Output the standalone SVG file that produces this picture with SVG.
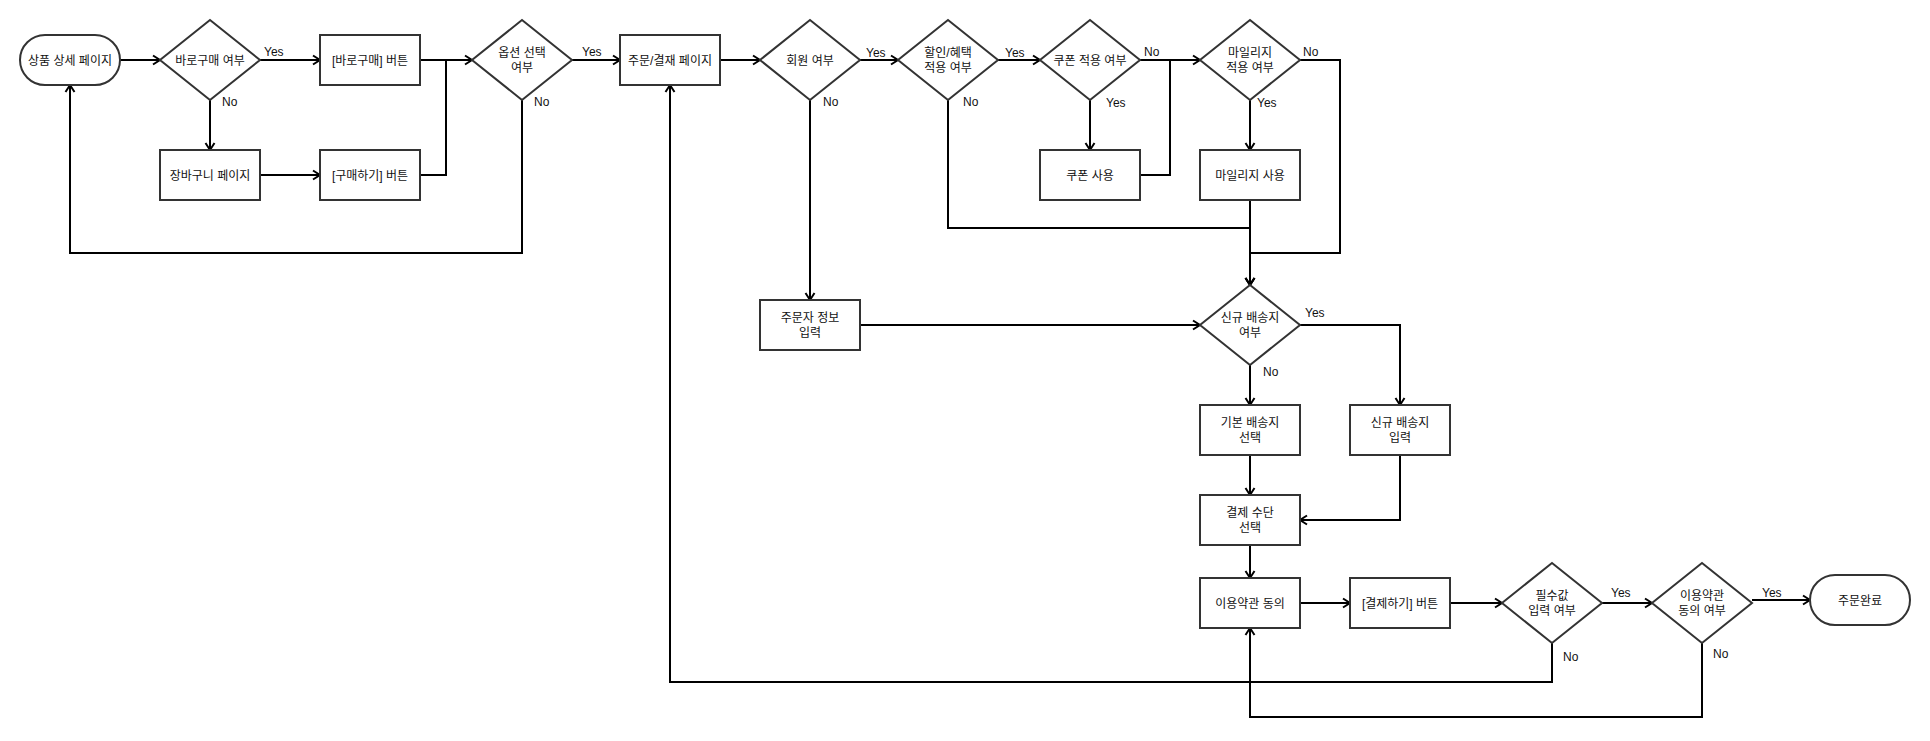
<svg xmlns="http://www.w3.org/2000/svg" width="1930" height="741" viewBox="0 0 1930 741">
<style>
.n{fill:#fff;stroke:#333;stroke-width:2}
.e{fill:none;stroke:#000;stroke-width:2}
.ea{fill:none;stroke:#000;stroke-width:2;marker-end:url(#arr)}
text{font-family:"Liberation Sans","Noto Sans CJK KR",sans-serif;font-size:12px;fill:#111}
.c{text-anchor:middle}
</style>
<defs>
<marker id="arr" viewBox="-9 -6 11 12" refX="0" refY="0" markerWidth="11" markerHeight="12" markerUnits="userSpaceOnUse" orient="auto">
<path d="M-7,-4.5 L0,0 L-7,4.5" fill="none" stroke="#000" stroke-width="2"/>
</marker>
</defs>
<rect width="1930" height="741" fill="#fff"/>
<g id="connectors">
<path class="ea" d="M120,60 H160"/>
<path class="ea" d="M260,60 H320"/>
<path class="ea" d="M210,100 V150"/>
<path class="ea" d="M260,175 H320"/>
<path class="ea" d="M420,60 H472"/>
<path class="e" d="M420,175 H446 V60"/>
<path class="ea" d="M572,60 H620"/>
<path class="ea" d="M522,100 V253 H70 V85"/>
<path class="ea" d="M720,60 H760"/>
<path class="ea" d="M860,60 H898"/>
<path class="ea" d="M810,100 V300"/>
<path class="ea" d="M998,60 H1040"/>
<path class="ea" d="M948,100 V228 H1250 V285"/>
<path class="ea" d="M1090,100 V150"/>
<path class="ea" d="M1140,60 H1200"/>
<path class="e" d="M1140,175 H1170 V60"/>
<path class="ea" d="M1250,100 V150"/>
<path class="ea" d="M1250,200 V285"/>
<path class="ea" d="M1300,60 H1340 V253 H1250 V285"/>
<path class="ea" d="M860,325 H1200"/>
<path class="ea" d="M1300,325 H1400 V405"/>
<path class="ea" d="M1250,365 V405"/>
<path class="ea" d="M1250,455 V495"/>
<path class="ea" d="M1400,455 V520 H1300"/>
<path class="ea" d="M1250,545 V578"/>
<path class="ea" d="M1300,603 H1350"/>
<path class="ea" d="M1450,603 H1502"/>
<path class="ea" d="M1602,603 H1652"/>
<path class="ea" d="M1752,600 H1810"/>
<path class="ea" d="M1552,643 V682 H670 V85"/>
<path class="ea" d="M1702,643 V717 H1250 V628"/>
</g>
<g id="edge-labels">
<text x="264" y="56">Yes</text>
<text x="222" y="106">No</text>
<text x="582" y="56">Yes</text>
<text x="534" y="106">No</text>
<text x="866" y="57">Yes</text>
<text x="823" y="106">No</text>
<text x="1005" y="57">Yes</text>
<text x="963" y="106">No</text>
<text x="1144" y="56">No</text>
<text x="1106" y="107">Yes</text>
<text x="1303" y="56">No</text>
<text x="1257" y="107">Yes</text>
<text x="1305" y="317">Yes</text>
<text x="1263" y="376">No</text>
<text x="1611" y="597">Yes</text>
<text x="1563" y="661">No</text>
<text x="1762" y="597">Yes</text>
<text x="1713" y="658">No</text>
</g>
<g id="n-start"><rect class="n" x="20" y="35" width="100" height="50" rx="25"/><text class="c" x="70" y="64.5">상품 상세 페이지</text></g>
<g id="n-direct"><path class="n" d="M210,20 L260,60 L210,100 L160,60 Z"/><text class="c" x="210" y="64.5">바로구매 여부</text></g>
<g id="n-btn-direct"><rect class="n" x="320" y="35" width="100" height="50"/><text class="c" x="370" y="64.5">[바로구매] 버튼</text></g>
<g id="n-cart"><rect class="n" x="160" y="150" width="100" height="50"/><text class="c" x="210" y="179.5">장바구니 페이지</text></g>
<g id="n-btn-buy"><rect class="n" x="320" y="150" width="100" height="50"/><text class="c" x="370" y="179.5">[구매하기] 버튼</text></g>
<g id="n-option"><path class="n" d="M522,20 L572,60 L522,100 L472,60 Z"/><text class="c" x="522" y="57.3">옵션 선택</text><text class="c" x="522" y="71.8">여부</text></g>
<g id="n-order"><rect class="n" x="620" y="35" width="100" height="50"/><text class="c" x="670" y="64.5">주문/결재 페이지</text></g>
<g id="n-member"><path class="n" d="M810,20 L860,60 L810,100 L760,60 Z"/><text class="c" x="810" y="64.5">회원 여부</text></g>
<g id="n-discount"><path class="n" d="M948,20 L998,60 L948,100 L898,60 Z"/><text class="c" x="948" y="57.3">할인/혜택</text><text class="c" x="948" y="71.8">적용 여부</text></g>
<g id="n-coupon-q"><path class="n" d="M1090,20 L1140,60 L1090,100 L1040,60 Z"/><text class="c" x="1090" y="64.5">쿠폰 적용 여부</text></g>
<g id="n-coupon"><rect class="n" x="1040" y="150" width="100" height="50"/><text class="c" x="1090" y="179.5">쿠폰 사용</text></g>
<g id="n-mileage-q"><path class="n" d="M1250,20 L1300,60 L1250,100 L1200,60 Z"/><text class="c" x="1250" y="57.3">마일리지</text><text class="c" x="1250" y="71.8">적용 여부</text></g>
<g id="n-mileage"><rect class="n" x="1200" y="150" width="100" height="50"/><text class="c" x="1250" y="179.5">마일리지 사용</text></g>
<g id="n-orderer"><rect class="n" x="760" y="300" width="100" height="50"/><text class="c" x="810" y="322.3">주문자 정보</text><text class="c" x="810" y="336.8">입력</text></g>
<g id="n-newaddr-q"><path class="n" d="M1250,285 L1300,325 L1250,365 L1200,325 Z"/><text class="c" x="1250" y="322.3">신규 배송지</text><text class="c" x="1250" y="336.8">여부</text></g>
<g id="n-defaddr"><rect class="n" x="1200" y="405" width="100" height="50"/><text class="c" x="1250" y="427.3">기본 배송지</text><text class="c" x="1250" y="441.8">선택</text></g>
<g id="n-newaddr"><rect class="n" x="1350" y="405" width="100" height="50"/><text class="c" x="1400" y="427.3">신규 배송지</text><text class="c" x="1400" y="441.8">입력</text></g>
<g id="n-paymethod"><rect class="n" x="1200" y="495" width="100" height="50"/><text class="c" x="1250" y="517.3">결제 수단</text><text class="c" x="1250" y="531.8">선택</text></g>
<g id="n-terms"><rect class="n" x="1200" y="578" width="100" height="50"/><text class="c" x="1250" y="607.5">이용약관 동의</text></g>
<g id="n-btn-pay"><rect class="n" x="1350" y="578" width="100" height="50"/><text class="c" x="1400" y="607.5">[결제하기] 버튼</text></g>
<g id="n-required-q"><path class="n" d="M1552,563 L1602,603 L1552,643 L1502,603 Z"/><text class="c" x="1552" y="600.3">필수값</text><text class="c" x="1552" y="614.8">입력 여부</text></g>
<g id="n-terms-q"><path class="n" d="M1702,563 L1752,603 L1702,643 L1652,603 Z"/><text class="c" x="1702" y="600.3">이용약관</text><text class="c" x="1702" y="614.8">동의 여부</text></g>
<g id="n-end"><rect class="n" x="1810" y="575" width="100" height="50" rx="25"/><text class="c" x="1860" y="604.5">주문완료</text></g>
</svg>
